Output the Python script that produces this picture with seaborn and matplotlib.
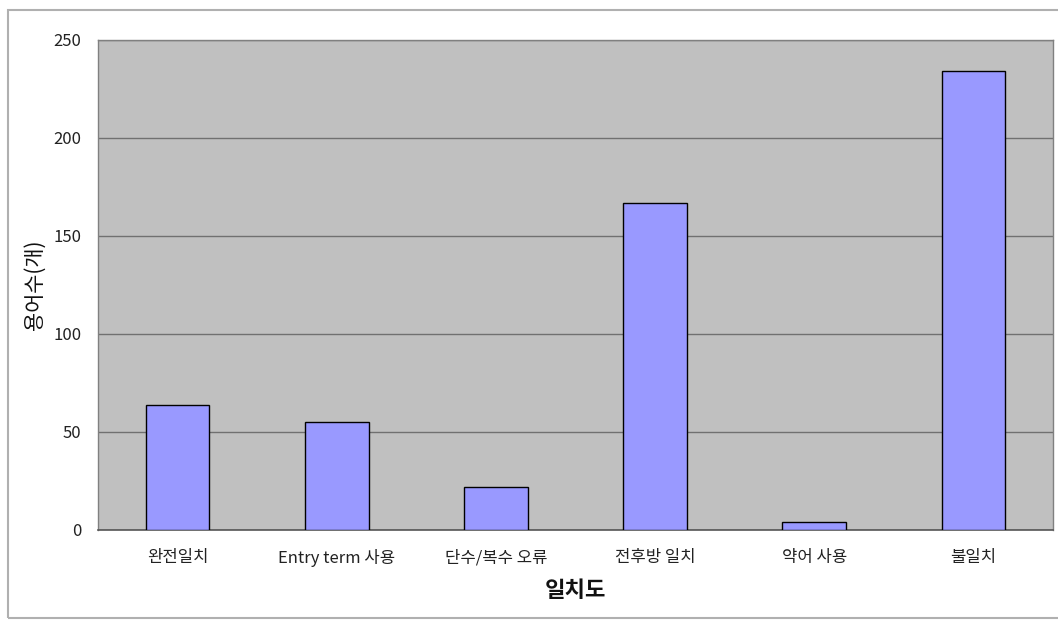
import matplotlib
matplotlib.use("Agg")
import matplotlib.pyplot as plt
from matplotlib.patches import Rectangle
import seaborn as sns
import pandas as pd

categories = ["완전일치", "Entry term 사용", "단수/복수 오류", "전후방 일치", "약어 사용", "불일치"]
counts = [64, 55, 22, 167, 4, 234]
y_ticks = [0, 50, 100, 150, 200, 250]

sns.set_theme(style="white")
plt.rcParams["font.family"] = ["Noto Sans CJK KR", "DejaVu Sans"]

df = pd.DataFrame({"category": categories, "count": counts})

fig = plt.figure(figsize=(10.58, 6.22), dpi=100)
ax = fig.add_axes([98 / 1058, 1 - 530 / 622, (1053 - 98) / 1058, (530 - 40) / 622])
ax.set_facecolor("#C0C0C0")

sns.barplot(data=df, x="category", y="count", ax=ax, color="#9999FF",
            saturation=1, width=0.4, edgecolor="black", linewidth=1.0, zorder=3)

ax.set_ylim(0, 250)
ax.set_xlim(-0.5, len(categories) - 0.5)
ax.set_yticks(y_ticks)
ax.set_yticklabels([str(v) for v in y_ticks], fontsize=12, color="#222222")
ax.yaxis.grid(True, color="#707070", linewidth=1.0, zorder=1)
ax.set_axisbelow(True)

ax.tick_params(axis="x", length=0, pad=14, labelsize=12, labelcolor="#222222")
ax.tick_params(axis="y", length=0, pad=12)
ax.set_xticks(range(len(categories)))
ax.set_xticklabels(categories)
ax.set_xticks([i + 0.5 for i in range(len(categories) - 1)], minor=True)
ax.tick_params(axis="x", which="minor", length=4, direction="inout", color="#555555", width=1)

for side in ["top", "right", "left"]:
    ax.spines[side].set_color("#808080")
    ax.spines[side].set_linewidth(1.0)
ax.spines["bottom"].set_color("#555555")
ax.spines["bottom"].set_linewidth(1.2)

ax.set_xlabel("일치도", fontsize=16, fontweight="bold", labelpad=8, color="#111111")
ax.set_ylabel("용어수(개)", fontsize=15, fontweight="medium", color="#111111")
ax.yaxis.set_label_coords(-0.055, 0.5)

# outer chart frame
fig.patches.append(Rectangle((8 / 1058, 1 - 618 / 622), (1060 - 8) / 1058, (618 - 10) / 622,
                             transform=fig.transFigure, fill=False,
                             edgecolor="#B0B0B0", linewidth=1.5))

fig.savefig("out.png", dpi=100, facecolor="white")
